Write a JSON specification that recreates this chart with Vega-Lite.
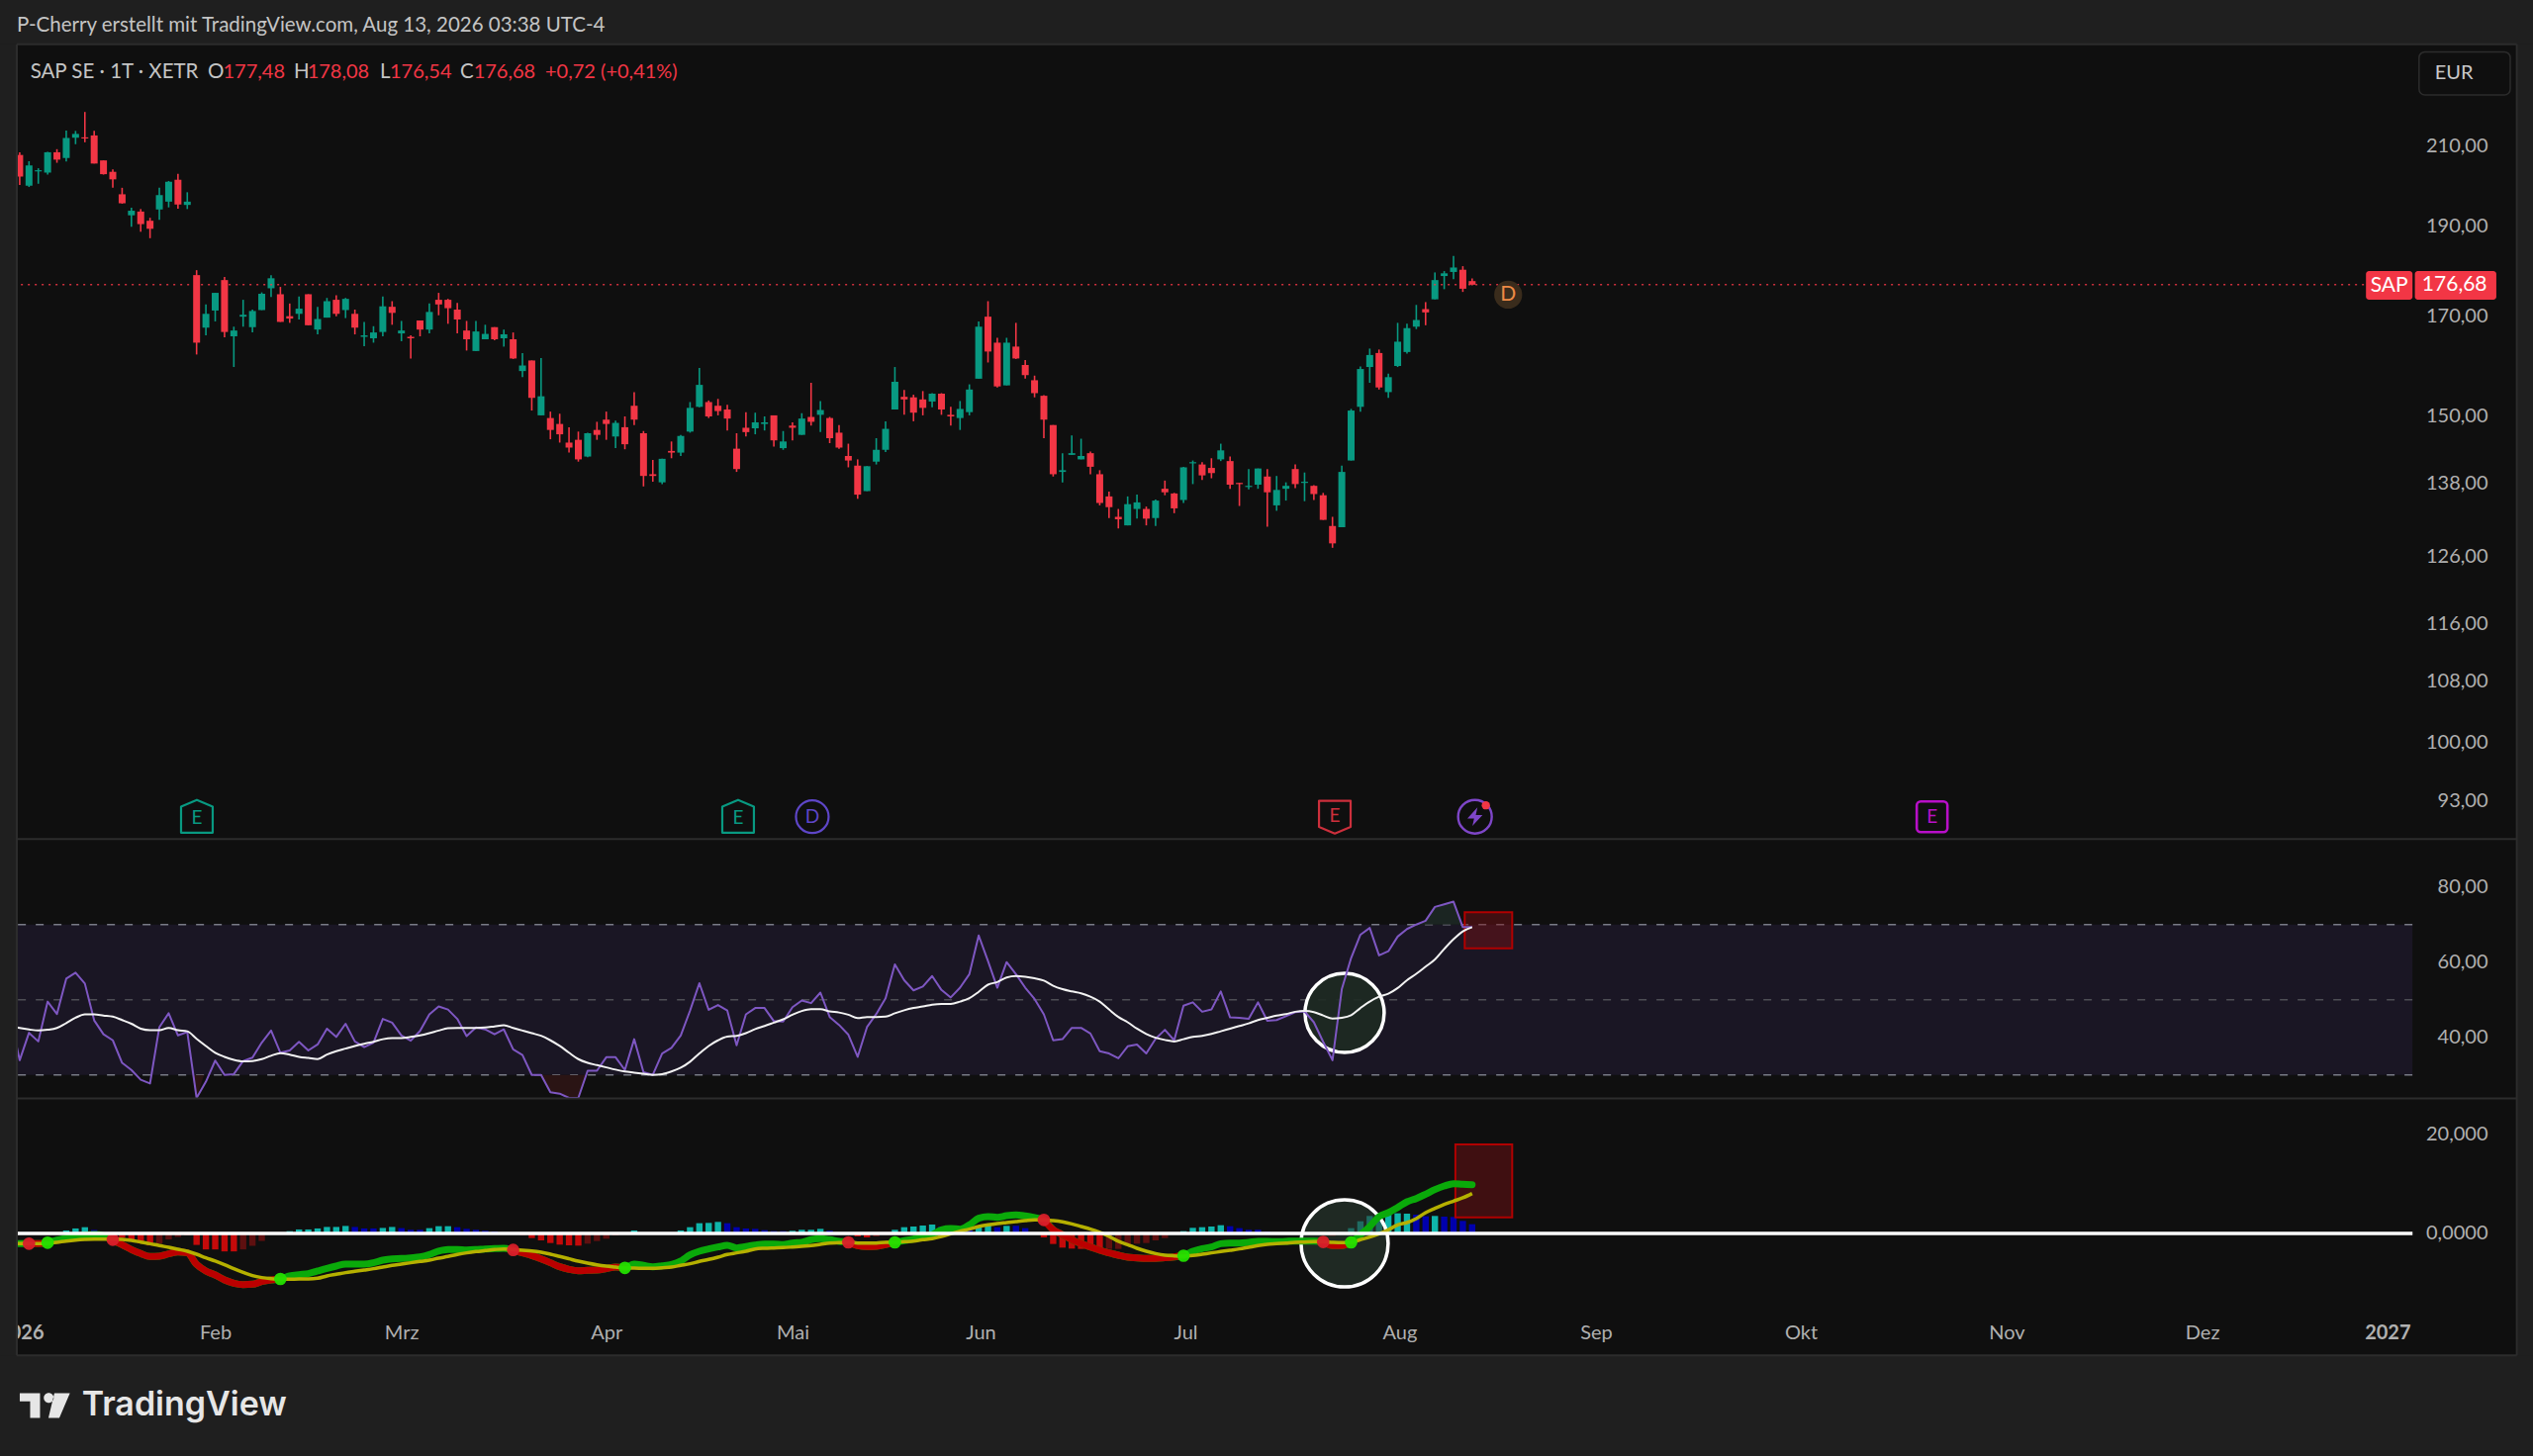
{
  "$schema": "https://vega.github.io/schema/vega-lite/v6.json",
  "description": "SAP SE daily candles with RSI and MACD panes, TradingView dark snapshot.",
  "width": 2560,
  "height": 1472,
  "autosize": {"type": "none"},
  "padding": 0,
  "background": "#0f0f0f",
  "config": {"view": {"stroke": null}, "text": {"font": "Lato"}},
  "datasets": {
    "candles": [
      {"i":0,"o":207.6,"h":208.3,"l":200.0,"c":202.1},{"i":1,"o":199.8,"h":206.0,"l":199.5,"c":204.9},{"i":2,"o":203.4,"h":204.2,"l":200.3,"c":203.7},{"i":3,"o":203.1,"h":208.4,"l":202.6,"c":208.3},{"i":4,"o":208.3,"h":209.1,"l":205.6,"c":206.4},{"i":5,"o":206.8,"h":214.0,"l":205.9,"c":212.0},{"i":6,"o":212.1,"h":213.9,"l":210.4,"c":213.1},{"i":7,"o":212.2,"h":219.0,"l":210.9,"c":211.9},{"i":8,"o":212.7,"h":213.9,"l":205.4,"c":205.4},{"i":9,"o":206.2,"h":206.2,"l":202.6,"c":202.7},
      {"i":10,"o":203.3,"h":203.9,"l":199.3,"c":201.4},{"i":11,"o":197.7,"h":199.3,"l":195.4,"c":195.5},{"i":12,"o":192.6,"h":194.4,"l":189.9,"c":193.7},{"i":13,"o":193.5,"h":194.1,"l":188.7,"c":190.5},{"i":14,"o":191.3,"h":192.0,"l":187.2,"c":189.4},{"i":15,"o":194.0,"h":199.3,"l":191.5,"c":197.5},{"i":16,"o":195.9,"h":201.0,"l":194.5,"c":200.8},{"i":17,"o":201.3,"h":202.8,"l":194.2,"c":195.2},{"i":18,"o":195.1,"h":198.2,"l":194.1,"c":195.9},{"i":19,"o":178.8,"h":179.9,"l":162.0,"c":164.4},
      {"i":20,"o":167.5,"h":172.4,"l":165.9,"c":170.4},{"i":21,"o":171.1,"h":174.9,"l":168.8,"c":174.9},{"i":22,"o":177.7,"h":178.4,"l":165.5,"c":166.6},{"i":23,"o":165.7,"h":167.7,"l":159.5,"c":166.9},{"i":24,"o":169.8,"h":173.4,"l":167.7,"c":170.2},{"i":25,"o":167.6,"h":171.3,"l":166.5,"c":171.0},{"i":26,"o":171.2,"h":175.0,"l":171.2,"c":174.7},{"i":27,"o":175.9,"h":178.8,"l":174.0,"c":178.1},{"i":28,"o":174.6,"h":176.2,"l":168.7,"c":168.7},{"i":29,"o":169.9,"h":172.6,"l":168.5,"c":169.4},
      {"i":30,"o":170.4,"h":174.1,"l":169.2,"c":171.5},{"i":31,"o":174.6,"h":174.6,"l":168.0,"c":168.0},{"i":32,"o":167.1,"h":171.9,"l":166.1,"c":169.3},{"i":33,"o":169.6,"h":173.8,"l":169.6,"c":173.1},{"i":34,"o":173.4,"h":174.4,"l":169.9,"c":170.4},{"i":35,"o":171.2,"h":173.8,"l":169.5,"c":173.6},{"i":36,"o":170.4,"h":171.3,"l":166.1,"c":167.5},{"i":37,"o":165.6,"h":168.7,"l":163.7,"c":165.9},{"i":38,"o":165.3,"h":167.8,"l":164.4,"c":166.5},{"i":39,"o":166.6,"h":174.1,"l":165.7,"c":172.0},
      {"i":40,"o":171.9,"h":173.1,"l":168.1,"c":170.6},{"i":41,"o":166.3,"h":168.9,"l":164.7,"c":166.9},{"i":42,"o":165.6,"h":165.9,"l":161.2,"c":165.3},{"i":43,"o":169.0,"h":169.0,"l":165.7,"c":167.1},{"i":44,"o":167.1,"h":172.6,"l":166.3,"c":170.8},{"i":45,"o":173.4,"h":174.9,"l":170.1,"c":172.4},{"i":46,"o":173.4,"h":173.6,"l":168.3,"c":171.6},{"i":47,"o":171.3,"h":172.7,"l":166.3,"c":169.2},{"i":48,"o":166.9,"h":168.9,"l":162.8,"c":165.1},{"i":49,"o":162.7,"h":168.9,"l":162.7,"c":166.7},
      {"i":50,"o":165.1,"h":168.1,"l":165.1,"c":166.2},{"i":51,"o":167.6,"h":167.6,"l":164.9,"c":165.1},{"i":52,"o":165.3,"h":167.1,"l":163.6,"c":166.1},{"i":53,"o":165.1,"h":166.5,"l":161.1,"c":161.2},{"i":54,"o":158.7,"h":162.3,"l":157.5,"c":159.8},{"i":55,"o":160.8,"h":160.8,"l":151.1,"c":153.5},{"i":56,"o":150.2,"h":161.3,"l":150.2,"c":153.8},{"i":57,"o":149.7,"h":150.9,"l":145.8,"c":147.5},{"i":58,"o":148.6,"h":150.5,"l":145.2,"c":146.7},{"i":59,"o":145.2,"h":148.0,"l":143.4,"c":144.3},
      {"i":60,"o":145.7,"h":147.2,"l":141.8,"c":142.2},{"i":61,"o":142.7,"h":147.0,"l":142.6,"c":146.9},{"i":62,"o":147.5,"h":149.0,"l":145.7,"c":146.6},{"i":63,"o":149.4,"h":150.9,"l":145.7,"c":148.6},{"i":64,"o":146.3,"h":149.2,"l":144.2,"c":148.8},{"i":65,"o":148.0,"h":150.0,"l":144.0,"c":144.9},{"i":66,"o":152.0,"h":154.6,"l":148.4,"c":149.4},{"i":67,"o":146.9,"h":147.3,"l":137.5,"c":139.3},{"i":68,"o":139.6,"h":142.1,"l":138.3,"c":139.3},{"i":69,"o":138.2,"h":142.3,"l":137.9,"c":142.3},
      {"i":70,"o":143.7,"h":145.4,"l":142.4,"c":143.4},{"i":71,"o":143.4,"h":146.6,"l":142.8,"c":146.4},{"i":72,"o":147.2,"h":152.7,"l":147.0,"c":151.6},{"i":73,"o":151.8,"h":159.3,"l":151.7,"c":156.0},{"i":74,"o":152.7,"h":153.0,"l":149.7,"c":150.0},{"i":75,"o":152.0,"h":153.3,"l":150.2,"c":151.0},{"i":76,"o":151.3,"h":152.2,"l":147.4,"c":149.6},{"i":77,"o":144.1,"h":146.9,"l":140.0,"c":140.5},{"i":78,"o":147.9,"h":150.8,"l":146.3,"c":147.1},{"i":79,"o":147.8,"h":150.7,"l":146.7,"c":148.9},
      {"i":80,"o":148.6,"h":150.0,"l":147.4,"c":148.9},{"i":81,"o":150.2,"h":150.2,"l":144.5,"c":145.6},{"i":82,"o":144.2,"h":147.3,"l":143.9,"c":145.4},{"i":83,"o":148.3,"h":148.9,"l":145.6,"c":147.9},{"i":84,"o":146.6,"h":150.6,"l":146.6,"c":149.6},{"i":85,"o":149.9,"h":156.4,"l":148.3,"c":149.0},{"i":86,"o":150.3,"h":152.9,"l":147.1,"c":151.2},{"i":87,"o":149.7,"h":149.9,"l":145.1,"c":146.0},{"i":88,"o":147.0,"h":148.4,"l":144.1,"c":144.3},{"i":89,"o":142.8,"h":145.0,"l":140.8,"c":142.0},
      {"i":90,"o":141.1,"h":142.2,"l":135.4,"c":136.1},{"i":91,"o":136.7,"h":141.0,"l":136.7,"c":141.0},{"i":92,"o":141.8,"h":146.0,"l":141.3,"c":143.9},{"i":93,"o":143.9,"h":149.1,"l":143.5,"c":147.7},{"i":94,"o":151.3,"h":159.5,"l":151.3,"c":156.6},{"i":95,"o":153.7,"h":155.0,"l":150.3,"c":153.2},{"i":96,"o":153.6,"h":154.1,"l":149.1,"c":150.7},{"i":97,"o":153.2,"h":154.8,"l":150.2,"c":151.6},{"i":98,"o":152.8,"h":154.4,"l":151.7,"c":154.3},{"i":99,"o":154.3,"h":154.4,"l":150.3,"c":151.3},
      {"i":100,"o":150.3,"h":151.8,"l":148.3,"c":150.0},{"i":101,"o":149.7,"h":152.9,"l":147.5,"c":151.4},{"i":102,"o":150.8,"h":156.1,"l":150.2,"c":155.1},{"i":103,"o":157.2,"h":168.8,"l":157.2,"c":167.7},{"i":104,"o":169.8,"h":173.1,"l":160.4,"c":162.6},{"i":105,"o":164.4,"h":165.4,"l":155.5,"c":155.7},{"i":106,"o":155.9,"h":165.4,"l":155.9,"c":164.4},{"i":107,"o":163.6,"h":168.5,"l":161.1,"c":161.2},{"i":108,"o":159.9,"h":160.9,"l":157.2,"c":157.9},{"i":109,"o":156.9,"h":157.8,"l":153.6,"c":154.4},
      {"i":110,"o":153.9,"h":154.0,"l":146.0,"c":149.4},{"i":111,"o":148.4,"h":148.4,"l":139.2,"c":139.6},{"i":112,"o":140.0,"h":143.3,"l":138.2,"c":140.3},{"i":113,"o":143.0,"h":146.5,"l":143.0,"c":143.3},{"i":114,"o":142.2,"h":145.9,"l":142.2,"c":142.8},{"i":115,"o":143.3,"h":143.6,"l":139.6,"c":140.9},{"i":116,"o":139.6,"h":140.3,"l":134.3,"c":134.7},{"i":117,"o":135.8,"h":136.6,"l":132.2,"c":134.0},{"i":118,"o":132.4,"h":133.7,"l":130.5,"c":132.0},{"i":119,"o":131.0,"h":135.8,"l":131.0,"c":134.5},
      {"i":120,"o":133.7,"h":136.1,"l":132.1,"c":134.8},{"i":121,"o":133.7,"h":134.1,"l":131.0,"c":132.1},{"i":122,"o":132.2,"h":135.3,"l":130.9,"c":135.1},{"i":123,"o":137.1,"h":138.5,"l":136.0,"c":136.5},{"i":124,"o":136.3,"h":136.4,"l":133.0,"c":133.8},{"i":125,"o":135.2,"h":140.9,"l":134.7,"c":140.8},{"i":126,"o":141.5,"h":142.0,"l":137.9,"c":141.7},{"i":127,"o":141.3,"h":141.7,"l":138.6,"c":139.4},{"i":128,"o":140.7,"h":142.4,"l":138.9,"c":139.8},{"i":129,"o":142.2,"h":145.0,"l":141.9,"c":143.8},
      {"i":130,"o":141.9,"h":142.7,"l":137.1,"c":137.8},{"i":131,"o":138.1,"h":138.1,"l":134.2,"c":137.9},{"i":132,"o":137.4,"h":140.5,"l":137.0,"c":137.6},{"i":133,"o":137.8,"h":140.6,"l":137.1,"c":140.6},{"i":134,"o":139.2,"h":140.5,"l":130.8,"c":136.5},{"i":135,"o":134.3,"h":139.3,"l":133.4,"c":136.9},{"i":136,"o":137.1,"h":138.2,"l":135.1,"c":137.6},{"i":137,"o":140.5,"h":141.3,"l":137.2,"c":137.9},{"i":138,"o":138.1,"h":139.9,"l":135.0,"c":138.3},{"i":139,"o":137.6,"h":137.7,"l":135.2,"c":136.2},
      {"i":140,"o":136.0,"h":136.4,"l":131.9,"c":131.9},{"i":141,"o":130.9,"h":132.4,"l":127.4,"c":128.1},{"i":142,"o":130.7,"h":141.1,"l":130.7,"c":140.0},{"i":143,"o":142.0,"h":151.4,"l":142.0,"c":151.1},{"i":144,"o":151.8,"h":159.6,"l":150.9,"c":159.1},{"i":145,"o":159.5,"h":163.2,"l":156.4,"c":161.9},{"i":146,"o":162.3,"h":163.0,"l":155.1,"c":155.5},{"i":147,"o":154.6,"h":158.2,"l":153.5,"c":157.5},{"i":148,"o":159.7,"h":168.5,"l":159.5,"c":164.6},{"i":149,"o":162.5,"h":168.3,"l":162.2,"c":167.4},
      {"i":150,"o":167.7,"h":172.3,"l":167.2,"c":169.1},{"i":151,"o":171.4,"h":172.9,"l":168.0,"c":170.7},{"i":152,"o":173.5,"h":179.4,"l":173.5,"c":177.7},{"i":153,"o":178.6,"h":179.7,"l":175.7,"c":179.2},{"i":154,"o":179.5,"h":183.1,"l":177.9,"c":180.5},{"i":155,"o":180.0,"h":180.8,"l":175.1,"c":175.8},{"i":156,"o":177.48,"h":178.08,"l":176.54,"c":176.68}
    ],
    "rsi": [
      {"i":-1,"r":45.4,"m":43.0},{"i":0,"r":33.9,"m":42.5},{"i":1,"r":41.2,"m":42.1},{"i":2,"r":38.9,"m":41.8},{"i":3,"r":49.5,"m":42.0},{"i":4,"r":46.2,"m":42.5},{"i":5,"r":55.6,"m":43.8},{"i":6,"r":57.2,"m":45.2},{"i":7,"r":54.3,"m":46.1},{"i":8,"r":44.5,"m":46.1},{"i":9,"r":40.8,"m":45.8},
      {"i":10,"r":39.2,"m":45.5},{"i":11,"r":33.2,"m":44.6},{"i":12,"r":31.3,"m":43.6},{"i":13,"r":28.7,"m":42.3},{"i":14,"r":27.7,"m":41.9},{"i":15,"r":42.7,"m":41.9},{"i":16,"r":46.4,"m":42.5},{"i":17,"r":40.5,"m":41.9},{"i":18,"r":41.4,"m":41.6},{"i":19,"r":22.1,"m":39.6},
      {"i":20,"r":28.2,"m":37.7},{"i":21,"r":33.8,"m":35.9},{"i":22,"r":30.0,"m":34.8},{"i":23,"r":30.2,"m":34.0},{"i":24,"r":33.7,"m":33.6},{"i":25,"r":34.6,"m":33.7},{"i":26,"r":38.6,"m":34.2},{"i":27,"r":41.8,"m":35.1},{"i":28,"r":35.9,"m":35.8},{"i":29,"r":36.5,"m":35.4},
      {"i":30,"r":38.8,"m":34.8},{"i":31,"r":36.5,"m":34.5},{"i":32,"r":38.1,"m":34.2},{"i":33,"r":42.3,"m":35.4},{"i":34,"r":40.1,"m":36.3},{"i":35,"r":43.6,"m":37.0},{"i":36,"r":38.9,"m":37.7},{"i":37,"r":37.4,"m":38.3},{"i":38,"r":38.6,"m":38.8},{"i":39,"r":44.9,"m":39.5},
      {"i":40,"r":43.9,"m":39.8},{"i":41,"r":40.5,"m":39.8},{"i":42,"r":39.1,"m":40.1},{"i":43,"r":41.7,"m":40.5},{"i":44,"r":46.1,"m":41.1},{"i":45,"r":48.2,"m":41.8},{"i":46,"r":47.4,"m":42.4},{"i":47,"r":44.9,"m":42.5},{"i":48,"r":40.3,"m":42.5},{"i":49,"r":42.6,"m":42.5},
      {"i":50,"r":42.1,"m":42.6},{"i":51,"r":40.8,"m":42.9},{"i":52,"r":42.1,"m":43.2},{"i":53,"r":36.8,"m":42.5},{"i":54,"r":35.3,"m":41.8},{"i":55,"r":30.0,"m":41.1},{"i":56,"r":30.0,"m":40.4},{"i":57,"r":25.4,"m":39.2},{"i":58,"r":25.0,"m":37.7},{"i":59,"r":23.4,"m":35.9},
      {"i":60,"r":21.7,"m":34.2},{"i":61,"r":31.1,"m":33.2},{"i":62,"r":31.1,"m":32.6},{"i":63,"r":34.7,"m":32.0},{"i":64,"r":34.7,"m":31.4},{"i":65,"r":31.3,"m":30.9},{"i":66,"r":39.5,"m":30.6},{"i":67,"r":30.7,"m":30.3},{"i":68,"r":30.0,"m":30.0},{"i":69,"r":35.7,"m":30.2},
      {"i":70,"r":37.2,"m":30.9},{"i":71,"r":40.5,"m":31.9},{"i":72,"r":47.1,"m":33.5},{"i":73,"r":54.4,"m":35.7},{"i":74,"r":47.3,"m":37.7},{"i":75,"r":48.6,"m":39.2},{"i":76,"r":47.1,"m":40.2},{"i":77,"r":37.9,"m":40.4},{"i":78,"r":46.1,"m":41.1},{"i":79,"r":47.8,"m":42.2},
      {"i":80,"r":47.8,"m":43.0},{"i":81,"r":44.3,"m":43.9},{"i":82,"r":44.2,"m":44.8},{"i":83,"r":48.0,"m":46.0},{"i":84,"r":49.8,"m":47.0},{"i":85,"r":49.1,"m":47.5},{"i":86,"r":51.9,"m":47.5},{"i":87,"r":45.4,"m":46.9},{"i":88,"r":43.3,"m":46.6},{"i":89,"r":40.7,"m":46.0},
      {"i":90,"r":34.8,"m":45.1},{"i":91,"r":42.7,"m":45.4},{"i":92,"r":46.2,"m":45.4},{"i":93,"r":50.4,"m":45.5},{"i":94,"r":59.4,"m":46.4},{"i":95,"r":55.2,"m":47.2},{"i":96,"r":52.5,"m":47.8},{"i":97,"r":53.5,"m":48.2},{"i":98,"r":56.3,"m":48.7},{"i":99,"r":52.6,"m":48.9},
      {"i":100,"r":50.6,"m":48.9},{"i":101,"r":53.2,"m":49.5},{"i":102,"r":56.8,"m":50.4},{"i":103,"r":67.1,"m":52.1},{"i":104,"r":60.3,"m":54.0},{"i":105,"r":53.2,"m":54.7},{"i":106,"r":60.0,"m":55.9},{"i":107,"r":56.8,"m":56.3},{"i":108,"r":53.2,"m":56.1},{"i":109,"r":50.2,"m":55.7},
      {"i":110,"r":46.1,"m":55.1},{"i":111,"r":39.2,"m":53.7},{"i":112,"r":39.5,"m":52.8},{"i":113,"r":42.5,"m":52.2},{"i":114,"r":42.5,"m":51.7},{"i":115,"r":41.0,"m":50.8},{"i":116,"r":36.3,"m":49.5},{"i":117,"r":35.7,"m":47.4},{"i":118,"r":34.4,"m":45.4},{"i":119,"r":37.6,"m":44.0},
      {"i":120,"r":38.1,"m":42.3},{"i":121,"r":35.7,"m":40.9},{"i":122,"r":39.6,"m":39.9},{"i":123,"r":42.0,"m":39.3},{"i":124,"r":39.2,"m":38.9},{"i":125,"r":48.4,"m":39.5},{"i":126,"r":49.3,"m":40.1},{"i":127,"r":46.8,"m":40.4},{"i":128,"r":47.4,"m":40.9},{"i":129,"r":52.2,"m":41.6},
      {"i":130,"r":45.3,"m":42.3},{"i":131,"r":45.2,"m":43.0},{"i":132,"r":44.9,"m":43.7},{"i":133,"r":49.3,"m":44.6},{"i":134,"r":44.4,"m":45.2},{"i":135,"r":44.6,"m":45.8},{"i":136,"r":45.6,"m":46.2},{"i":137,"r":46.7,"m":46.8},{"i":138,"r":46.9,"m":47.0},{"i":139,"r":44.0,"m":46.7},
      {"i":140,"r":38.8,"m":45.8},{"i":141,"r":33.9,"m":45.0},{"i":142,"r":52.8,"m":45.2},{"i":143,"r":61.1,"m":45.9},{"i":144,"r":67.3,"m":47.8},{"i":145,"r":69.1,"m":49.5},{"i":146,"r":61.8,"m":50.8},{"i":147,"r":62.9,"m":51.6},{"i":148,"r":66.8,"m":53.1},{"i":149,"r":68.8,"m":55.2},
      {"i":150,"r":70.0,"m":56.9},{"i":151,"r":71.0,"m":58.8},{"i":152,"r":74.7,"m":60.7},{"i":153,"r":75.4,"m":63.5},{"i":154,"r":76.1,"m":66.1},{"i":155,"r":69.3,"m":68.2},{"i":156,"r":69.3,"m":69.3}
    ],
    "macd": [
      {"i":-1,"v":-2.0,"s":-2.05},{"i":0,"v":-2.05,"s":-2.05},{"i":1,"v":-2.05,"s":-2.05,"bear":1},{"i":2,"v":-2.05,"s":-2.05,"bear":1},{"i":3,"v":-1.85,"s":-1.98,"bear":1},{"i":4,"v":-1.32,"s":-1.78},{"i":5,"v":-0.92,"s":-1.52},{"i":6,"v":-0.59,"s":-1.32},{"i":7,"v":-0.33,"s":-1.19},{"i":8,"v":-0.20,"s":-1.12},{"i":9,"v":-0.46,"s":-1.12},
      {"i":10,"v":-1.39,"s":-1.12,"bear":2},{"i":11,"v":-2.24,"s":-1.19,"bear":2},{"i":12,"v":-3.23,"s":-1.39,"bear":2},{"i":13,"v":-4.03,"s":-1.72,"bear":2},{"i":14,"v":-4.62,"s":-2.05,"bear":2},{"i":15,"v":-4.55,"s":-2.44,"bear":2},{"i":16,"v":-4.09,"s":-2.77,"bear":2},{"i":17,"v":-3.70,"s":-3.17,"bear":2},{"i":18,"v":-3.89,"s":-3.56,"bear":2},{"i":19,"v":-6.20,"s":-4.16,"bear":2},
      {"i":20,"v":-7.52,"s":-4.88,"bear":2},{"i":21,"v":-8.32,"s":-5.54,"bear":2},{"i":22,"v":-9.31,"s":-6.27,"bear":2},{"i":23,"v":-9.97,"s":-7.06,"bear":2},{"i":24,"v":-10.23,"s":-7.79,"bear":2},{"i":25,"v":-10.17,"s":-8.45,"bear":2},{"i":26,"v":-9.64,"s":-8.84,"bear":2},{"i":27,"v":-9.31,"s":-9.04,"bear":2},{"i":28,"v":-9.11,"s":-9.11,"bear":2},{"i":29,"v":-8.51,"s":-9.17},
      {"i":30,"v":-8.25,"s":-9.11},{"i":31,"v":-8.05,"s":-9.11},{"i":32,"v":-7.52,"s":-8.98},{"i":33,"v":-7.00,"s":-8.51},{"i":34,"v":-6.53,"s":-8.18},{"i":35,"v":-6.14,"s":-7.85},{"i":36,"v":-6.14,"s":-7.59},{"i":37,"v":-6.14,"s":-7.33},{"i":38,"v":-5.87,"s":-7.06},{"i":39,"v":-5.35,"s":-6.73},
      {"i":40,"v":-5.08,"s":-6.40},{"i":41,"v":-5.02,"s":-6.14},{"i":42,"v":-4.88,"s":-5.87},{"i":43,"v":-4.69,"s":-5.61},{"i":44,"v":-4.22,"s":-5.35},{"i":45,"v":-3.56,"s":-4.95},{"i":46,"v":-3.23,"s":-4.62},{"i":47,"v":-3.23,"s":-4.22},{"i":48,"v":-3.30,"s":-3.89},{"i":49,"v":-3.23,"s":-3.63},
      {"i":50,"v":-3.10,"s":-3.43},{"i":51,"v":-3.04,"s":-3.23},{"i":52,"v":-2.97,"s":-3.10},{"i":53,"v":-3.37,"s":-3.23,"bear":3},{"i":54,"v":-3.89,"s":-3.37,"bear":3},{"i":55,"v":-4.42,"s":-3.50,"bear":3},{"i":56,"v":-5.08,"s":-3.76,"bear":3},{"i":57,"v":-5.87,"s":-4.16,"bear":3},{"i":58,"v":-6.67,"s":-4.62,"bear":3},{"i":59,"v":-7.19,"s":-5.08,"bear":3},
      {"i":60,"v":-7.46,"s":-5.54,"bear":3},{"i":61,"v":-7.39,"s":-5.94,"bear":3},{"i":62,"v":-7.33,"s":-6.27,"bear":3},{"i":63,"v":-7.06,"s":-6.53,"bear":3},{"i":64,"v":-6.73,"s":-6.73,"bear":3},{"i":65,"v":-6.86,"s":-6.93,"bear":3},{"i":66,"v":-6.14,"s":-6.93},{"i":67,"v":-6.40,"s":-7.00},{"i":68,"v":-6.67,"s":-7.00},{"i":69,"v":-6.47,"s":-6.86},
      {"i":70,"v":-6.20,"s":-6.73},{"i":71,"v":-5.54,"s":-6.40},{"i":72,"v":-4.29,"s":-6.07},{"i":73,"v":-3.56,"s":-5.61},{"i":74,"v":-3.10,"s":-5.21},{"i":75,"v":-2.71,"s":-4.75},{"i":76,"v":-2.38,"s":-4.22},{"i":77,"v":-2.90,"s":-3.89},{"i":78,"v":-2.64,"s":-3.56},{"i":79,"v":-2.31,"s":-3.10},
      {"i":80,"v":-2.11,"s":-2.97},{"i":81,"v":-2.11,"s":-2.90},{"i":82,"v":-2.24,"s":-2.84},{"i":83,"v":-1.91,"s":-2.71},{"i":84,"v":-1.78,"s":-2.57},{"i":85,"v":-1.25,"s":-2.44},{"i":86,"v":-1.06,"s":-2.18},{"i":87,"v":-1.25,"s":-1.92},{"i":88,"v":-1.58,"s":-1.85},{"i":89,"v":-1.78,"s":-1.78,"bear":4},
      {"i":90,"v":-2.44,"s":-1.92,"bear":4},{"i":91,"v":-2.64,"s":-1.92,"bear":4},{"i":92,"v":-2.57,"s":-1.92,"bear":4},{"i":93,"v":-2.24,"s":-1.78,"bear":4},{"i":94,"v":-1.78,"s":-1.78,"bear":4},{"i":95,"v":-1.45,"s":-1.65},{"i":96,"v":-1.12,"s":-1.52},{"i":97,"v":-0.59,"s":-1.25},{"i":98,"v":-0.26,"s":-1.06},{"i":99,"v":0.73,"s":-0.59},
      {"i":100,"v":0.99,"s":-0.07},{"i":101,"v":0.86,"s":0.46},{"i":102,"v":1.72,"s":0.86},{"i":103,"v":3.04,"s":1.39},{"i":104,"v":3.37,"s":1.72},{"i":105,"v":3.23,"s":1.98},{"i":106,"v":3.56,"s":2.18},{"i":107,"v":3.70,"s":2.38},{"i":108,"v":3.50,"s":2.57},{"i":109,"v":3.17,"s":2.71},
      {"i":110,"v":2.71,"s":2.71,"bear":5},{"i":111,"v":0.73,"s":2.57,"bear":5},{"i":112,"v":-0.26,"s":2.31,"bear":5},{"i":113,"v":-1.25,"s":1.91,"bear":5},{"i":114,"v":-2.05,"s":1.39,"bear":5},{"i":115,"v":-2.71,"s":0.86,"bear":5},{"i":116,"v":-3.37,"s":0.20,"bear":5},{"i":117,"v":-3.89,"s":-0.59,"bear":5},{"i":118,"v":-4.36,"s":-1.58,"bear":5},{"i":119,"v":-4.75,"s":-2.24,"bear":5},
      {"i":120,"v":-4.88,"s":-2.97,"bear":5},{"i":121,"v":-5.02,"s":-3.56,"bear":5},{"i":122,"v":-5.02,"s":-4.03,"bear":5},{"i":123,"v":-4.88,"s":-4.36,"bear":5},{"i":124,"v":-4.69,"s":-4.49,"bear":5},{"i":125,"v":-4.42,"s":-4.55,"bear":5},{"i":126,"v":-3.56,"s":-4.42},{"i":127,"v":-3.04,"s":-4.16},{"i":128,"v":-2.71,"s":-3.89},{"i":129,"v":-2.05,"s":-3.63},
      {"i":130,"v":-1.91,"s":-3.37},{"i":131,"v":-1.91,"s":-3.10},{"i":132,"v":-1.78,"s":-2.77},{"i":133,"v":-1.58,"s":-2.44},{"i":134,"v":-1.58,"s":-2.18},{"i":135,"v":-1.65,"s":-2.05},{"i":136,"v":-1.58,"s":-1.92},{"i":137,"v":-1.52,"s":-1.78},{"i":138,"v":-1.52,"s":-1.72},{"i":139,"v":-1.52,"s":-1.65},
      {"i":140,"v":-1.78,"s":-1.65,"bear":6},{"i":141,"v":-2.44,"s":-1.78,"bear":6},{"i":142,"v":-2.44,"s":-1.85,"bear":6},{"i":143,"v":-1.78,"s":-1.78,"bear":6},{"i":144,"v":-0.26,"s":-1.25},{"i":145,"v":1.39,"s":-0.73},{"i":146,"v":3.37,"s":-0.07},{"i":147,"v":4.16,"s":0.73},{"i":148,"v":5.21,"s":1.72},{"i":149,"v":6.34,"s":2.18},
      {"i":150,"v":7.00,"s":2.97},{"i":151,"v":7.85,"s":4.16},{"i":152,"v":8.78,"s":5.02},{"i":153,"v":9.50,"s":5.81},{"i":154,"v":9.97,"s":6.47},{"i":155,"v":9.83,"s":7.13},{"i":156,"v":9.77,"s":7.99}
    ],
    "hist": [
      {"i":5,"h":0.6,"p":"a"},{"i":6,"h":1.0,"p":"a"},{"i":7,"h":1.25,"p":"a"},{"i":8,"h":0.7,"p":"b"},{"i":9,"h":-0.2,"p":"c"},{"i":10,"h":-0.5,"p":"c"},{"i":11,"h":-0.86,"p":"c"},{"i":12,"h":-1.5,"p":"c"},{"i":13,"h":-2.0,"p":"c"},{"i":14,"h":-2.4,"p":"c"},{"i":15,"h":-2.0,"p":"d"},{"i":16,"h":-1.2,"p":"d"},{"i":17,"h":-0.7,"p":"d"},{"i":18,"h":-0.4,"p":"d"},{"i":19,"h":-2.3,"p":"c"},{"i":20,"h":-3.2,"p":"c"},{"i":21,"h":-3.2,"p":"c"},{"i":22,"h":-3.6,"p":"c"},{"i":23,"h":-3.6,"p":"c"},{"i":24,"h":-3.2,"p":"d"},{"i":25,"h":-2.5,"p":"d"},{"i":26,"h":-1.5,"p":"d"},
      {"i":29,"h":0.45,"p":"a"},{"i":30,"h":0.8,"p":"a"},{"i":31,"h":0.8,"p":"a"},{"i":32,"h":1.0,"p":"a"},{"i":33,"h":1.3,"p":"a"},{"i":34,"h":1.3,"p":"a"},{"i":35,"h":1.5,"p":"a"},{"i":36,"h":1.3,"p":"b"},{"i":37,"h":1.0,"p":"b"},{"i":38,"h":1.0,"p":"b"},{"i":39,"h":1.1,"p":"a"},{"i":40,"h":1.3,"p":"a"},{"i":41,"h":1.06,"p":"b"},{"i":42,"h":0.73,"p":"b"},{"i":43,"h":0.73,"p":"b"},{"i":44,"h":1.06,"p":"a"},{"i":45,"h":1.45,"p":"a"},{"i":46,"h":1.45,"p":"a"},{"i":47,"h":1.25,"p":"b"},{"i":48,"h":0.92,"p":"b"},{"i":49,"h":0.73,"p":"b"},{"i":50,"h":0.53,"p":"b"},{"i":51,"h":0.4,"p":"b"},{"i":52,"h":0.2,"p":"b"},
      {"i":54,"h":-0.26,"p":"c"},{"i":55,"h":-0.92,"p":"c"},{"i":56,"h":-1.39,"p":"c"},{"i":57,"h":-1.92,"p":"c"},{"i":58,"h":-2.24,"p":"c"},{"i":59,"h":-2.38,"p":"c"},{"i":60,"h":-2.44,"p":"c"},{"i":61,"h":-2.05,"p":"d"},{"i":62,"h":-1.52,"p":"d"},{"i":63,"h":-1.06,"p":"d"},{"i":64,"h":-0.4,"p":"d"},
      {"i":66,"h":0.6,"p":"a"},{"i":71,"h":0.6,"p":"a"},{"i":72,"h":1.25,"p":"a"},{"i":73,"h":2.05,"p":"a"},{"i":74,"h":2.11,"p":"a"},{"i":75,"h":2.31,"p":"a"},{"i":76,"h":2.05,"p":"b"},{"i":77,"h":1.25,"p":"b"},{"i":78,"h":0.99,"p":"b"},{"i":79,"h":0.92,"p":"b"},{"i":80,"h":0.66,"p":"b"},{"i":81,"h":0.46,"p":"b"},{"i":82,"h":0.46,"p":"b"},{"i":83,"h":0.53,"p":"a"},{"i":84,"h":0.73,"p":"a"},{"i":85,"h":0.73,"p":"a"},{"i":86,"h":0.92,"p":"a"},{"i":87,"h":0.53,"p":"b"},
      {"i":90,"h":-0.59,"p":"c"},{"i":91,"h":-0.79,"p":"c"},{"i":92,"h":-0.59,"p":"d"},
      {"i":94,"h":0.73,"p":"a"},{"i":95,"h":1.25,"p":"a"},{"i":96,"h":1.39,"p":"a"},{"i":97,"h":1.58,"p":"a"},{"i":98,"h":1.78,"p":"a"},{"i":99,"h":1.39,"p":"b"},{"i":100,"h":1.06,"p":"b"},{"i":101,"h":0.86,"p":"b"},{"i":102,"h":0.73,"p":"b"},{"i":103,"h":1.52,"p":"a"},{"i":104,"h":1.78,"p":"a"},{"i":105,"h":1.25,"p":"b"},{"i":106,"h":1.52,"p":"a"},{"i":107,"h":1.52,"p":"b"},{"i":108,"h":1.06,"p":"b"},
      {"i":110,"h":-0.79,"p":"c"},{"i":111,"h":-2.11,"p":"c"},{"i":112,"h":-2.84,"p":"c"},{"i":113,"h":-3.04,"p":"c"},{"i":114,"h":-3.1,"p":"c"},{"i":115,"h":-3.23,"p":"c"},{"i":116,"h":-3.56,"p":"c"},{"i":117,"h":-3.1,"p":"d"},{"i":118,"h":-3.1,"p":"d"},{"i":119,"h":-2.44,"p":"d"},{"i":120,"h":-2.05,"p":"d"},{"i":121,"h":-1.92,"p":"d"},{"i":122,"h":-1.39,"p":"d"},{"i":123,"h":-0.92,"p":"d"},
      {"i":125,"h":0.46,"p":"a"},{"i":126,"h":1.12,"p":"a"},{"i":127,"h":1.25,"p":"a"},{"i":128,"h":1.39,"p":"a"},{"i":129,"h":1.65,"p":"a"},{"i":130,"h":1.45,"p":"b"},{"i":131,"h":1.06,"p":"b"},{"i":132,"h":0.73,"p":"b"},{"i":133,"h":0.73,"p":"b"},{"i":134,"h":0.33,"p":"b"},{"i":141,"h":-0.46,"p":"c"},
      {"i":143,"h":1.06,"p":"a"},{"i":144,"h":2.44,"p":"a"},{"i":145,"h":3.5,"p":"a"},{"i":146,"h":3.63,"p":"a"},{"i":147,"h":3.76,"p":"a"},{"i":148,"h":4.03,"p":"a"},{"i":149,"h":3.96,"p":"a"},{"i":150,"h":3.76,"p":"b"},{"i":151,"h":3.43,"p":"b"},{"i":152,"h":3.5,"p":"a"},{"i":153,"h":3.37,"p":"b"},{"i":154,"h":3.3,"p":"b"},{"i":155,"h":2.51,"p":"b"},{"i":156,"h":1.85,"p":"b"}
    ],
    "crosses": [
      {"i":1,"v":-2.05,"k":"bear"},{"i":3,"v":-1.85,"k":"bull"},{"i":10,"v":-1.25,"k":"bear"},{"i":28,"v":-9.11,"k":"bull"},{"i":53,"v":-3.3,"k":"bear"},{"i":65,"v":-6.9,"k":"bull"},{"i":89,"v":-1.78,"k":"bear"},{"i":94,"v":-1.78,"k":"bull"},{"i":110,"v":2.71,"k":"bear"},{"i":125,"v":-4.45,"k":"bull"},{"i":140,"v":-1.7,"k":"bear"},{"i":143,"v":-1.78,"k":"bull"}
    ]
  },
  "encoding": {
    "x": {
      "field": "i",
      "type": "quantitative",
      "scale": {"domain": [-2.115, 269.94], "nice": false, "zero": false, "padding": 0},
      "axis": {
        "title": null,
        "orient": "bottom",
        "offset": -135,
        "domain": false,
        "ticks": false,
        "grid": false,
        "labelPadding": 0,
        "labelFont": "Lato",
        "labelFontSize": 20,
        "labelColor": "#b0b0b0",
        "labelOverlap": false,
        "labelFlush": false,
        "labelBound": false,
        "values": [0.1, 21, 41, 63, 83, 103.2, 125.2, 148.2, 169.3, 191.3, 213.4, 234.4, 254.3],
        "labelFontWeight": {"condition": {"test": "datum.value < 1 || datum.value > 250", "value": "bold"}, "value": "normal"},
        "labelExpr": "datum.value==0.1?'2026':datum.value==21?'Feb':datum.value==41?'Mrz':datum.value==63?'Apr':datum.value==83?'Mai':datum.value==103.2?'Jun':datum.value==125.2?'Jul':datum.value==148.2?'Aug':datum.value==169.3?'Sep':datum.value==191.3?'Okt':datum.value==213.4?'Nov':datum.value==234.4?'Dez':'2027'"
      }
    }
  },
  "layer": [
    {
      "layer": [
        {
          "data": {"name": "candles"},
          "mark": {"type": "rule", "strokeWidth": 1.6},
          "encoding": {
            "y": {
              "field": "l",
              "type": "quantitative",
              "scale": {"type": "log", "domain": [41.2, 251.7], "range": [1472, 0], "nice": false, "zero": false},
              "axis": {
                "title": null,
                "orient": "right",
                "offset": -46,
                "domain": false,
                "ticks": false,
                "grid": false,
                "labelPadding": 0,
                "labelAlign": "right",
                "labelBaseline": "middle",
                "labelFont": "Lato",
                "labelFontSize": 20,
                "labelColor": "#b0b0b0",
                "labelOverlap": false,
                "labelBound": false,
                "values": [93, 100, 108, 116, 126, 138, 150, 170, 190, 210],
                "labelExpr": "replace(format(datum.value,'.2f'),'.',',')"
              }
            },
            "y2": {"field": "h"},
            "color": {"condition": {"test": "datum.c < datum.o", "value": "#f23645"}, "value": "#089981"}
          }
        },
        {
          "data": {"name": "candles"},
          "mark": {"type": "bar", "size": 7, "orient": "vertical"},
          "encoding": {
            "y": {"field": "o", "type": "quantitative"},
            "y2": {"field": "c"},
            "color": {"condition": {"test": "datum.c < datum.o", "value": "#f23645"}, "value": "#089981"}
          }
        },
        {
          "data": {"values": [{"i": -2.1, "i2": 252, "p": 176.68}]},
          "mark": {"type": "rule", "color": "#f23645", "strokeWidth": 1.5, "strokeDash": [2, 5], "opacity": 0.85},
          "encoding": {
            "x2": {"field": "i2"},
            "y": {"field": "p", "type": "quantitative"}
          }
        }
      ]
    },
    {
      "layer": [
        {
          "data": {"values": [{"i": -2.1, "i2": 257, "lo": 30, "hi": 70}]},
          "mark": {"type": "rect", "color": "#1a1624"},
          "encoding": {
            "x2": {"field": "i2"},
            "y": {
              "field": "lo",
              "type": "quantitative",
              "scale": {"domain": [23.87, 92.82], "range": [1110, 848], "nice": false, "zero": false, "clamp": true},
              "axis": {
                "title": null,
                "orient": "right",
                "offset": -46,
                "domain": false,
                "ticks": false,
                "grid": false,
                "labelPadding": 0,
                "labelAlign": "right",
                "labelBaseline": "middle",
                "labelFont": "Lato",
                "labelFontSize": 20,
                "labelColor": "#b0b0b0",
                "labelOverlap": false,
                "labelBound": false,
                "values": [40, 60, 80],
                "labelExpr": "replace(format(datum.value,'.2f'),'.',',')"
              }
            },
            "y2": {"field": "hi"}
          }
        },
        {
          "data": {"values": [{"i": -2.1, "i2": 257, "v": 70}, {"i": -2.1, "i2": 257, "v": 30}]},
          "mark": {"type": "rule", "color": "#787b86", "strokeWidth": 1.5, "strokeDash": [8, 10]},
          "encoding": {"x2": {"field": "i2"}, "y": {"field": "v", "type": "quantitative"}}
        },
        {
          "data": {"values": [{"i": -2.1, "i2": 257, "v": 50}]},
          "mark": {"type": "rule", "color": "#4e4e55", "strokeWidth": 1.5, "strokeDash": [8, 10]},
          "encoding": {"x2": {"field": "i2"}, "y": {"field": "v", "type": "quantitative"}}
        },
        {
          "data": {"values": [{"i": 18.55, "v": 30}, {"i": 19, "v": 22.1}, {"i": 19.8, "v": 30}]},
          "mark": {"type": "area", "color": "#2a1414"},
          "encoding": {"y": {"field": "v", "type": "quantitative"}, "y2": {"datum": 30}}
        },
        {
          "data": {"values": [{"i": 56, "v": 30}, {"i": 57, "v": 25.4}, {"i": 58, "v": 25.0}, {"i": 59, "v": 23.4}, {"i": 60, "v": 21.7}, {"i": 60.9, "v": 30}]},
          "mark": {"type": "area", "color": "#2a1414"},
          "encoding": {"y": {"field": "v", "type": "quantitative"}, "y2": {"datum": 30}}
        },
        {
          "data": {"name": "rsi"},
          "transform": [{"filter": "datum.i >= 150 && datum.i <= 155"}],
          "mark": {"type": "area", "color": "#1b2522"},
          "encoding": {"y": {"field": "r", "type": "quantitative"}, "y2": {"datum": 70}}
        },
        {
          "data": {"values": [{"i": 142.3, "v": 46.5}]},
          "mark": {"type": "point", "shape": "circle", "size": 6400, "filled": true, "fill": "#1e2a22", "fillOpacity": 0.9, "stroke": "#ffffff", "strokeOpacity": 1, "strokeWidth": 3.5},
          "encoding": {"y": {"field": "v", "type": "quantitative"}}
        },
        {
          "data": {"values": [{"i": 155.2, "i2": 160.3, "a": 63.7, "b": 73.3}]},
          "mark": {"type": "rect", "fill": "#7a0f14", "fillOpacity": 0.45, "stroke": "#b00000", "strokeWidth": 2},
          "encoding": {"x2": {"field": "i2"}, "y": {"field": "a", "type": "quantitative"}, "y2": {"field": "b"}}
        },
        {
          "data": {"name": "rsi"},
          "mark": {"type": "line", "color": "#7e57c2", "strokeWidth": 2, "strokeJoin": "round"},
          "encoding": {"y": {"field": "r", "type": "quantitative"}}
        },
        {
          "data": {"name": "rsi"},
          "mark": {"type": "line", "color": "#f2f2f2", "strokeWidth": 2, "interpolate": "monotone"},
          "encoding": {"y": {"field": "m", "type": "quantitative"}}
        }
      ]
    },
    {
      "layer": [
        {
          "data": {"name": "hist"},
          "mark": {"type": "bar", "size": 6.4, "orient": "vertical"},
          "encoding": {
            "y": {
              "field": "h",
              "type": "quantitative",
              "scale": {"domain": [-24.36, 27.13], "range": [1370, 1110], "nice": false, "zero": false},
              "axis": {
                "title": null,
                "orient": "right",
                "offset": -46,
                "domain": false,
                "ticks": false,
                "grid": false,
                "labelPadding": 0,
                "labelAlign": "right",
                "labelBaseline": "middle",
                "labelFont": "Lato",
                "labelFontSize": 20,
                "labelColor": "#b0b0b0",
                "labelOverlap": false,
                "labelBound": false,
                "values": [0, 20],
                "labelExpr": "datum.value==0?'0,0000':'20,000'"
              }
            },
            "y2": {"datum": 0},
            "color": {
              "field": "p",
              "type": "nominal",
              "legend": null,
              "scale": {"domain": ["a", "b", "c", "d"], "range": ["#0fb5ab", "#0000ad", "#c40a0a", "#5e1010"]}
            }
          }
        },
        {
          "data": {"values": [{"i": 142.3, "v": -2.0}]},
          "mark": {"type": "point", "shape": "circle", "size": 7744, "filled": true, "fill": "#2a3a30", "fillOpacity": 0.6, "stroke": "#ffffff", "strokeOpacity": 1, "strokeWidth": 3.5},
          "encoding": {"y": {"field": "v", "type": "quantitative"}}
        },
        {
          "data": {"values": [{"i": 154.2, "i2": 160.3, "a": 3.2, "b": 17.8}]},
          "mark": {"type": "rect", "fill": "#7a0f14", "fillOpacity": 0.45, "stroke": "#b00000", "strokeWidth": 2},
          "encoding": {"x2": {"field": "i2"}, "y": {"field": "a", "type": "quantitative"}, "y2": {"field": "b"}}
        },
        {
          "data": {"name": "macd"},
          "mark": {"type": "line", "color": "#0aaa0a", "strokeWidth": 7, "strokeCap": "round", "interpolate": "monotone"},
          "encoding": {"y": {"field": "v", "type": "quantitative"}}
        },
        {
          "data": {"name": "macd"},
          "transform": [{"filter": "isValid(datum.bear)"}],
          "mark": {"type": "line", "color": "#bb0000", "strokeWidth": 7, "strokeCap": "round", "interpolate": "monotone"},
          "encoding": {"y": {"field": "v", "type": "quantitative"}, "detail": {"field": "bear"}}
        },
        {
          "data": {"name": "macd"},
          "mark": {"type": "line", "color": "#b5b000", "strokeWidth": 3.5, "interpolate": "monotone"},
          "encoding": {"y": {"field": "s", "type": "quantitative"}}
        },
        {
          "data": {"name": "crosses"},
          "mark": {"type": "point", "shape": "circle", "size": 160, "filled": true, "opacity": 0.95},
          "encoding": {
            "y": {"field": "v", "type": "quantitative"},
            "color": {"condition": {"test": "datum.k == 'bull'", "value": "#22e000"}, "value": "#d81f2a"}
          }
        },
        {
          "data": {"values": [{"i": -2.1, "i2": 257, "v": 0}]},
          "mark": {"type": "rule", "color": "#ffffff", "strokeWidth": 3.5},
          "encoding": {"x2": {"field": "i2"}, "y": {"field": "v", "type": "quantitative"}}
        }
      ]
    },
    {
      "layer": [
        {
          "data": {"values": [
            {"i": -2.115, "i2": -0.308, "a": 41.2, "b": 251.7},
            {"i": 268.2, "i2": 269.94, "a": 41.2, "b": 251.7},
            {"i": -2.115, "i2": 269.94, "a": 238.2, "b": 251.7},
            {"i": -2.115, "i2": 269.94, "a": 41.2, "b": 46.69}
          ]},
          "mark": {"type": "rect", "color": "#1f1f1f"},
          "encoding": {
            "x2": {"field": "i2"},
            "y": {"field": "a", "type": "quantitative", "axis": null, "scale": {"type": "log", "domain": [41.2, 251.7], "range": [1472, 0], "nice": false, "zero": false}},
            "y2": {"field": "b"}
          }
        },
        {
          "data": {"values": [
            {"i": -0.308, "i2": 268.2, "p": 238.2},
            {"i": -0.308, "i2": 268.2, "p": 88.7},
            {"i": -0.308, "i2": 268.2, "p": 64.26},
            {"i": -0.308, "i2": 268.2, "p": 46.69}
          ]},
          "mark": {"type": "rule", "color": "#2c2c2c", "strokeWidth": 2},
          "encoding": {"x2": {"field": "i2"}, "y": {"field": "p", "type": "quantitative", "axis": null}}
        },
        {
          "data": {"values": [
            {"i": -0.308, "a": 46.69, "b": 238.2},
            {"i": 268.2, "a": 46.69, "b": 238.2}
          ]},
          "mark": {"type": "rule", "color": "#2c2c2c", "strokeWidth": 2},
          "encoding": {"y": {"field": "a", "type": "quantitative", "axis": null}, "y2": {"field": "b"}}
        },
        {
          "data": {"values": [{"i": 257.7, "i2": 267.5, "a": 223.7, "b": 236.0}]},
          "mark": {"type": "rect", "fill": "#0f0f0f", "stroke": "#2c2c2c", "strokeWidth": 1.5, "cornerRadius": 6},
          "encoding": {"x2": {"field": "i2"}, "y": {"field": "a", "type": "quantitative", "axis": null}, "y2": {"field": "b"}}
        },
        {
          "data": {"values": [{"i": 252.0, "i2": 257.0, "a": 173.4, "b": 179.7}, {"i": 257.25, "i2": 266.0, "a": 173.4, "b": 179.7}]},
          "mark": {"type": "rect", "color": "#f23645", "cornerRadius": 3},
          "encoding": {"x2": {"field": "i2"}, "y": {"field": "a", "type": "quantitative", "axis": null}, "y2": {"field": "b"}}
        },
        {
          "data": {"values": [{"i": 254.5, "p": 176.4, "t": "SAP"}]},
          "mark": {"type": "text", "color": "#ffffff", "fontSize": 21, "align": "center", "baseline": "middle"},
          "encoding": {"y": {"field": "p", "type": "quantitative", "axis": null}, "text": {"field": "t"}}
        },
        {
          "data": {"values": [{"i": 265.0, "p": 176.68, "t": "176,68"}]},
          "mark": {"type": "text", "color": "#ffffff", "fontSize": 21, "align": "right", "baseline": "middle"},
          "encoding": {"y": {"field": "p", "type": "quantitative", "axis": null}, "text": {"field": "t"}}
        },
        {
          "data": {"values": [{"i": 259.4, "p": 229.8, "t": "EUR"}]},
          "mark": {"type": "text", "color": "#c8c8c8", "fontSize": 20, "align": "left", "baseline": "middle"},
          "encoding": {"y": {"field": "p", "type": "quantitative", "axis": null}, "text": {"field": "t"}}
        },
        {
          "data": {"values": [
            {"i": -0.3, "p": 243.8, "t": "P-Cherry erstellt mit TradingView.com, Aug 13, 2026 03:38 UTC-4"},
            {"i": 1.14, "p": 230.2, "t": "SAP SE · 1T · XETR"},
            {"i": 20.2, "p": 230.2, "t": "O"},
            {"i": 29.45, "p": 230.2, "t": "H"},
            {"i": 38.7, "p": 230.2, "t": "L"},
            {"i": 47.3, "p": 230.2, "t": "C"}
          ]},
          "mark": {"type": "text", "color": "#c4c4c4", "fontSize": 20.5, "align": "left", "baseline": "middle"},
          "encoding": {"y": {"field": "p", "type": "quantitative", "axis": null}, "text": {"field": "t"}}
        },
        {
          "data": {"values": [
            {"i": 21.85, "p": 230.2, "t": "177,48"},
            {"i": 30.9, "p": 230.2, "t": "178,08"},
            {"i": 39.75, "p": 230.2, "t": "176,54"},
            {"i": 48.75, "p": 230.2, "t": "176,68"},
            {"i": 56.44, "p": 230.2, "t": "+0,72 (+0,41%)"}
          ]},
          "mark": {"type": "text", "color": "#f23645", "fontSize": 20, "align": "left", "baseline": "middle"},
          "encoding": {"y": {"field": "p", "type": "quantitative", "axis": null}, "text": {"field": "t"}}
        },
        {
          "data": {"values": [{"i": 159.87, "p": 174.5}]},
          "mark": {"type": "point", "shape": "circle", "size": 800, "filled": true, "fill": "#3a2c1c", "opacity": 1},
          "encoding": {"y": {"field": "p", "type": "quantitative", "axis": null}}
        },
        {
          "data": {"values": [{"i": 159.87, "p": 174.5, "t": "D"}]},
          "mark": {"type": "text", "color": "#ee8a45", "fontSize": 21, "align": "center", "baseline": "middle"},
          "encoding": {"y": {"field": "p", "type": "quantitative", "axis": null}, "text": {"field": "t"}}
        },
        {
          "data": {"values": [{"i": 19.03, "p": 91.2}, {"i": 77.16, "p": 91.2}]},
          "mark": {"type": "point", "shape": "M0,-1 L0.94,-0.6 L0.94,0.95 L-0.94,0.95 L-0.94,-0.6 Z", "size": 1156, "filled": false, "stroke": "#089981", "strokeWidth": 2.2, "opacity": 1, "strokeJoin": "round"},
          "encoding": {"y": {"field": "p", "type": "quantitative", "axis": null}}
        },
        {
          "data": {"values": [{"i": 19.03, "p": 91.1, "t": "E"}, {"i": 77.16, "p": 91.1, "t": "E"}]},
          "mark": {"type": "text", "color": "#089981", "fontSize": 19, "align": "center", "baseline": "middle"},
          "encoding": {"y": {"field": "p", "type": "quantitative", "axis": null}, "text": {"field": "t"}}
        },
        {
          "data": {"values": [{"i": 85.13, "p": 91.2}]},
          "mark": {"type": "point", "shape": "circle", "size": 1089, "filled": false, "stroke": "#5e46c8", "strokeWidth": 2.2, "opacity": 1},
          "encoding": {"y": {"field": "p", "type": "quantitative", "axis": null}}
        },
        {
          "data": {"values": [{"i": 85.13, "p": 91.2, "t": "D"}]},
          "mark": {"type": "text", "color": "#5e46c8", "fontSize": 19, "align": "center", "baseline": "middle"},
          "encoding": {"y": {"field": "p", "type": "quantitative", "axis": null}, "text": {"field": "t"}}
        },
        {
          "data": {"values": [{"i": 141.25, "p": 91.2}]},
          "mark": {"type": "point", "shape": "M-0.94,-0.95 L0.94,-0.95 L0.94,0.6 L0,1 L-0.94,0.6 Z", "size": 1156, "filled": false, "stroke": "#cc2f3c", "strokeWidth": 2.2, "opacity": 1, "strokeJoin": "round"},
          "encoding": {"y": {"field": "p", "type": "quantitative", "axis": null}}
        },
        {
          "data": {"values": [{"i": 141.25, "p": 91.3, "t": "E"}]},
          "mark": {"type": "text", "color": "#cc2f3c", "fontSize": 19, "align": "center", "baseline": "middle"},
          "encoding": {"y": {"field": "p", "type": "quantitative", "axis": null}, "text": {"field": "t"}}
        },
        {
          "data": {"values": [{"i": 156.3, "p": 91.2}]},
          "mark": {"type": "point", "shape": "circle", "size": 1156, "filled": false, "stroke": "#7e46c8", "strokeWidth": 2.4, "opacity": 1},
          "encoding": {"y": {"field": "p", "type": "quantitative", "axis": null}}
        },
        {
          "data": {"values": [{"i": 156.3, "p": 91.2}]},
          "mark": {"type": "point", "shape": "M0.15,-0.55 L-0.45,0.1 L-0.05,0.1 L-0.15,0.55 L0.45,-0.1 L0.05,-0.1 Z", "size": 1156, "filled": true, "fill": "#7e46c8", "opacity": 1},
          "encoding": {"y": {"field": "p", "type": "quantitative", "axis": null}}
        },
        {
          "data": {"values": [{"i": 157.47, "p": 92.5}]},
          "mark": {"type": "point", "shape": "circle", "size": 70, "filled": true, "fill": "#f23645", "opacity": 1},
          "encoding": {"y": {"field": "p", "type": "quantitative", "axis": null}}
        },
        {
          "data": {"values": [{"i": 205.4, "p": 91.2}]},
          "mark": {"type": "rect", "fill": "#0f0f0f", "stroke": "#b80fc8", "strokeWidth": 2.6, "cornerRadius": 4, "width": 31, "height": 31},
          "encoding": {"y": {"field": "p", "type": "quantitative", "axis": null}}
        },
        {
          "data": {"values": [{"i": 205.4, "p": 91.2, "t": "E"}]},
          "mark": {"type": "text", "color": "#b80fc8", "fontSize": 19, "align": "center", "baseline": "middle"},
          "encoding": {"y": {"field": "p", "type": "quantitative", "axis": null}, "text": {"field": "t"}}
        },
        {
          "data": {"values": [{"i": 2.7, "p": 43.86}]},
          "mark": {"type": "point", "shape": "M-0.994,-0.49 L-0.19,-0.49 L-0.19,0.49 L-0.582,0.49 L-0.582,-0.176 L-0.994,-0.176 Z M0.378,-0.49 L0.994,-0.49 L0.575,0.49 L0.143,0.49 Z M-0.041,-0.306 A0.196,0.196 0 1,0 0.351,-0.306 A0.196,0.196 0 1,0 -0.041,-0.306 Z", "size": 2601, "filled": true, "fill": "#e6e6e6", "opacity": 1},
          "encoding": {"y": {"field": "p", "type": "quantitative", "axis": null}}
        },
        {
          "data": {"values": [{"i": 6.67, "p": 43.86, "t": "TradingView"}]},
          "mark": {"type": "text", "color": "#e6e6e6", "fontSize": 34, "fontWeight": 600, "font": "Inter", "align": "left", "baseline": "middle"},
          "encoding": {"y": {"field": "p", "type": "quantitative", "axis": null}, "text": {"field": "t"}}
        }
      ]
    }
  ],
  "resolve": {"scale": {"y": "independent"}, "axis": {"y": "independent"}}
}
